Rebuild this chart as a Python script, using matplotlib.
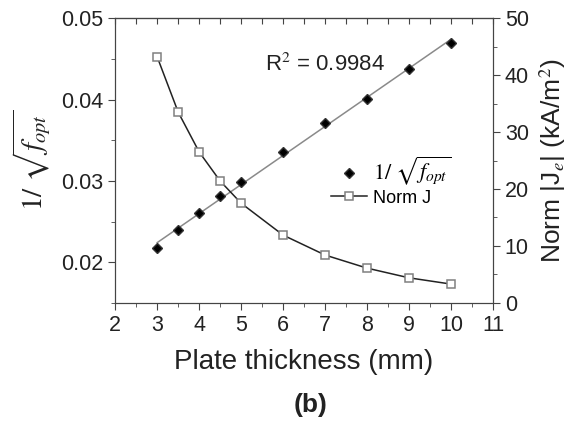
import numpy as np
import matplotlib.pyplot as plt
from matplotlib.ticker import MultipleLocator

plt.rcParams['font.family'] = ['Liberation Sans', 'DejaVu Sans']
plt.rcParams['mathtext.fontset'] = 'stix'

# data
thickness = [3, 3.5, 4, 4.5, 5, 6, 7, 8, 9, 10]
inv_sqrt_f = [0.0217, 0.0240, 0.0260, 0.0282, 0.0298, 0.0335, 0.0371, 0.0401, 0.0438, 0.0470]
norm_j = [43.2, 33.5, 26.5, 21.4, 17.5, 11.9, 8.4, 6.1, 4.4, 3.3]
r2_text = "R$^{2}$ = 0.9984"

fig = plt.figure(figsize=(5.82, 4.23), dpi=100)
ax = fig.add_axes([0.198, 0.284, 0.649, 0.673])
ax2 = ax.twinx()

# linear fit through the diamonds
coef = np.polyfit(thickness, inv_sqrt_f, 1)
xf = np.array([thickness[0], thickness[-1]])
ax.plot(xf, np.polyval(coef, xf), color='#8a8a8a', lw=1.1, zorder=2)
d, = ax.plot(thickness, inv_sqrt_f, 'D', color='black', ms=5.5, mec='#333333', zorder=3)

s, = ax2.plot(thickness, norm_j, '-s', color='#222222', lw=1.1, ms=5.5,
              mfc='white', mec='#808080', mew=1.1)

ax.set_xlim(2, 11)
ax.set_ylim(0.015, 0.05)
ax2.set_ylim(0, 50)

ax.xaxis.set_major_locator(MultipleLocator(1))
ax.xaxis.set_minor_locator(MultipleLocator(0.5))
ax.yaxis.set_minor_locator(MultipleLocator(0.005))
ax2.yaxis.set_major_locator(MultipleLocator(10))
ax2.yaxis.set_minor_locator(MultipleLocator(5))
ax.set_yticks([0.02, 0.03, 0.04, 0.05])
ax.set_yticklabels(['0.02', '0.03', '0.04', '0.05'])

ax.tick_params(axis='x', which='both', direction='out', top=False, labelsize=15.5, pad=4)
ax.tick_params(axis='x', which='major', length=5)
ax.tick_params(axis='x', which='minor', length=3)
ax.tick_params(axis='y', which='major', direction='out', length=5, labelsize=15.5)
ax.tick_params(axis='y', which='minor', direction='out', length=3)
ax2.tick_params(axis='y', which='major', direction='out', length=5, labelsize=15.5)
ax2.tick_params(axis='y', which='minor', direction='out', length=3)

# top ticks point inwards
sec = ax.secondary_xaxis('top')
sec.xaxis.set_major_locator(MultipleLocator(0.5))
sec.tick_params(direction='in', length=4, labeltop=False, color='#444444')

for a in (ax, ax2):
    for sp in a.spines.values():
        sp.set_color('#444444')
ax.tick_params(colors='#444444', labelcolor='#222222', which='both')
ax2.tick_params(colors='#444444', labelcolor='#222222', which='both')

ax.set_xlabel('Plate thickness (mm)', fontsize=20, color='#222222', labelpad=9)
ax.set_ylabel(r'$1/\ \sqrt{f_{opt}}$', fontsize=21, color='#222222', labelpad=6)
ax2.set_ylabel('Norm |J$_e$| (kA/m$^2$)', fontsize=19, color='#222222', labelpad=6)

ax.text(5.57, 0.0443, r2_text, fontsize=16, color='#222222', va='center')

leg = ax.legend([d, s], [r'$1/\ \sqrt{f_{opt}}$', 'Norm J'], loc='center',
                bbox_to_anchor=(0.73, 0.43), frameon=False, fontsize=13,
                handlelength=2.0, handletextpad=0.3, labelspacing=0.15)
leg.get_texts()[0].set_fontsize(16)

fig.text(0.533, 0.025, '(b)', fontsize=19, fontweight='bold', ha='center', color='#222222')

fig.savefig('out.png', dpi=100)
